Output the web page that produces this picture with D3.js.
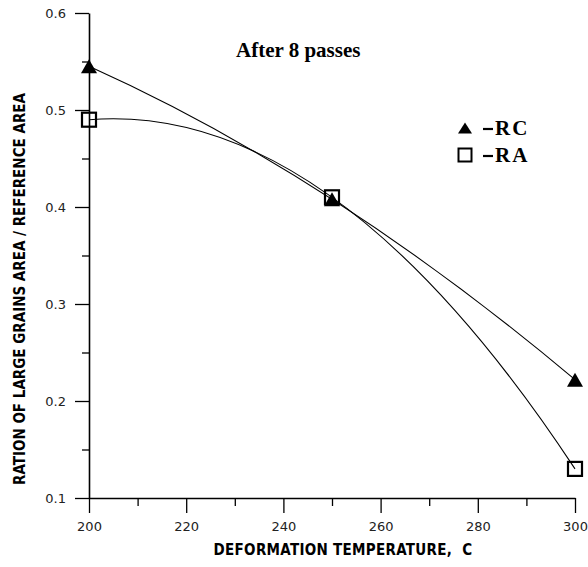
<!DOCTYPE html>
<html>
<head>
<meta charset="utf-8">
<script src="https://cdn.jsdelivr.net/npm/d3@7"></script>
<style>
  body { margin: 0; background: #fff; }
  svg { display: block; }
</style>
</head>
<body>
<div id="chart"></div>
<script>
// values
var temps = [200, 250, 300];
var rcValues = [0.545, 0.408, 0.222];
var raValues = [0.490, 0.410, 0.130];
var xTicks = [200, 220, 240, 260, 280, 300];
var yTicks = [0.1, 0.2, 0.3, 0.4, 0.5, 0.6];

var W = 588, H = 567;
var margin = { top: 13, right: 13, bottom: 69, left: 89 },
    width = W - margin.left - margin.right,
    height = H - margin.top - margin.bottom;

var svg = d3.select("#chart")
    .append("svg")
    .attr("width", W)
    .attr("height", H)
    .append("g")
    .attr("transform", "translate(" + margin.left + "," + margin.top + ")");

var x = d3.scaleLinear().domain([200, 300]).range([0, width]);
var y = d3.scaleLinear().domain([0.1, 0.6]).range([height, 0]);

// minor ticks halfway between majors
var xMinor = d3.range(210, 300, 20);
var yMinor = d3.range(0.15, 0.6, 0.1);

svg.append("g")
    .attr("transform", "translate(0," + height + ")")
    .call(d3.axisBottom(x).tickValues(xMinor).tickSize(8).tickFormat(""))
    .call(g => g.select(".domain").remove());
svg.append("g")
    .attr("transform", "translate(0," + height + ")")
    .call(d3.axisBottom(x).tickValues(xTicks).tickSize(15).tickSizeOuter(0).tickPadding(9))
    .call(g => g.selectAll("text").style("font-family", "DejaVu Sans").style("font-size", "13px").attr("fill", "#222"));

svg.append("g")
    .call(d3.axisLeft(y).tickValues(yMinor).tickSize(7).tickFormat(""))
    .call(g => g.select(".domain").remove());
svg.append("g")
    .call(d3.axisLeft(y).tickValues(yTicks).tickSize(14).tickSizeOuter(0).tickPadding(9).tickFormat(d3.format(".1f")))
    .call(g => g.selectAll("text").style("font-family", "DejaVu Sans").style("font-size", "13px").attr("fill", "#222"));

svg.selectAll(".domain").attr("stroke-width", 1.6);
svg.selectAll(".tick line").attr("stroke-width", 1.3);

// parabola through three evenly spaced points, as one quadratic bezier
function curveParabola(context) {
    var pts;
    return {
        areaStart: function () {}, areaEnd: function () {},
        lineStart: function () { pts = []; },
        point: function (px, py) { pts.push([px, py]); },
        lineEnd: function () {
            var p0 = pts[0], p1 = pts[1], p2 = pts[2];
            context.moveTo(p0[0], p0[1]);
            context.quadraticCurveTo(p1[0], 2 * p1[1] - (p0[1] + p2[1]) / 2, p2[0], p2[1]);
        }
    };
}

var line = d3.line()
    .x(function (d) { return x(d[0]); })
    .y(function (d) { return y(d[1]); })
    .curve(curveParabola);

var rc = temps.map(function (t, i) { return [t, rcValues[i]]; });
var ra = temps.map(function (t, i) { return [t, raValues[i]]; });

[rc, ra].forEach(function (s) {
    svg.append("path").datum(s)
        .attr("d", line)
        .attr("fill", "none")
        .attr("stroke", "#000")
        .attr("stroke-width", 1.1);
});

function tri(size, h) {
    return "M0," + (-h / 2) + "L" + (size / 2) + "," + (h / 2) + "L" + (-size / 2) + "," + (h / 2) + "Z";
}

svg.selectAll(".rc").data(rc).enter().append("path")
    .attr("class", "rc")
    .attr("transform", function (d) { return "translate(" + x(d[0]) + "," + y(d[1]) + ")"; })
    .attr("d", tri(16, 14))
    .attr("fill", "#000");

svg.selectAll(".ra").data(ra).enter().append("rect")
    .attr("class", "ra")
    .attr("x", function (d) { return x(d[0]) - 7; })
    .attr("y", function (d) { return y(d[1]) - 7; })
    .attr("width", 14).attr("height", 14)
    .attr("fill", "none")
    .attr("stroke", "#000")
    .attr("stroke-width", 2.2);

// title + legend
svg.append("text")
    .attr("x", 236 - margin.left).attr("y", 57 - margin.top)
    .style("font-family", "Liberation Serif").style("font-weight", "bold").style("font-size", "21px")
    .text("After 8 passes");

var leg = svg.append("g").attr("transform", "translate(" + (465 - margin.left) + "," + (128 - margin.top) + ")");
leg.append("path").attr("d", tri(14, 11)).attr("fill", "#000");
leg.append("rect").attr("x", -6.5).attr("y", 20.5).attr("width", 13).attr("height", 13)
    .attr("fill", "none").attr("stroke", "#000").attr("stroke-width", 2);
[["RC", 7], ["RA", 34]].forEach(function (e) {
    leg.append("line").attr("x1", 18).attr("x2", 28).attr("y1", e[1] - 6).attr("y2", e[1] - 6)
        .attr("stroke", "#000").attr("stroke-width", 2.2);
    leg.append("text").attr("x", 30).attr("y", e[1])
        .style("font-family", "Liberation Serif").style("font-weight", "bold").style("font-size", "21px")
        .style("letter-spacing", "2px")
        .text(e[0]);
});

// axis titles
svg.append("text")
    .attr("x", 343 - margin.left).attr("y", 555 - margin.top)
    .attr("text-anchor", "middle")
    .style("font-family", "DejaVu Sans Condensed").style("font-weight", "bold").style("font-size", "15px")
    .style("letter-spacing", "0.3px")
    .text("DEFORMATION TEMPERATURE,\u00a0\u00a0C");

svg.append("text")
    .attr("transform", "translate(" + (25 - margin.left) + "," + (289 - margin.top) + ") rotate(-90)")
    .attr("text-anchor", "middle")
    .style("font-family", "DejaVu Sans Condensed").style("font-weight", "bold").style("font-size", "15px")
    .text("RATION OF LARGE GRAINS AREA / REFERENCE AREA");
</script>
</body>
</html>
